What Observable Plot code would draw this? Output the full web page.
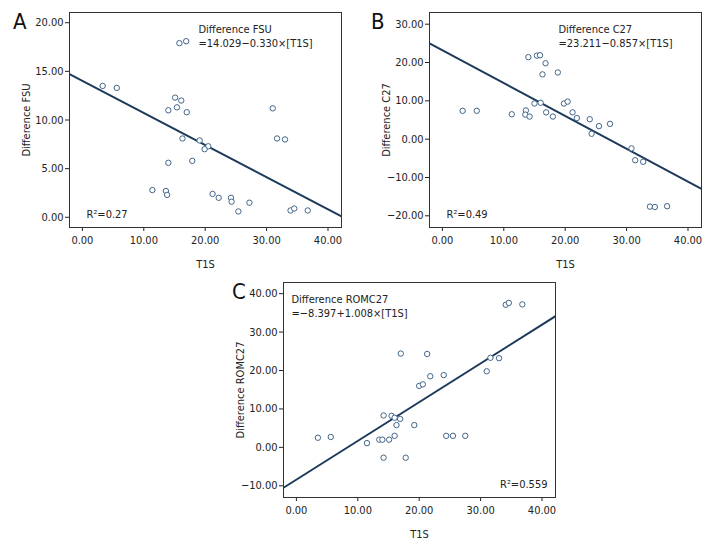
<!DOCTYPE html>
<html><head><meta charset="utf-8">
<script src="https://cdn.jsdelivr.net/npm/d3@7"></script>
<script src="https://cdn.jsdelivr.net/npm/@observablehq/plot@0.6"></script>
<style>
body{margin:0;background:#fff;}
#wrap{position:relative;width:720px;height:552px;overflow:hidden;font-family:'Liberation Sans Narrow','DejaVu Sans Condensed',sans-serif;}
.panel{position:absolute;}
.letter{position:absolute;font-size:22px;color:#111;line-height:1;}
</style></head><body><div id="wrap"></div>
<script>
// Panel A: Difference FSU vs T1S
const t1sA = [3.3,5.6,15.8,16.9,15.1,16.1,15.4,14.0,17.0,16.3,19.1,20.5,19.9,14.0,17.9,11.4,13.6,13.8,21.2,22.2,24.2,24.3,25.4,27.2,31.0,31.7,33.0,33.9,34.5,36.7];
const diffFSU = [13.5,13.3,17.9,18.1,12.3,12.0,11.3,11.0,10.8,8.1,7.9,7.3,7.0,5.6,5.8,2.8,2.7,2.3,2.4,2.0,2.0,1.6,0.6,1.5,11.2,8.1,8.0,0.7,0.9,0.7];
// Panel B: Difference C27 vs T1S
const t1sB = [3.3,5.6,11.3,13.6,13.5,14.2,14.0,15.4,15.9,16.8,16.3,18.8,15.0,16.0,16.9,18.0,19.8,20.4,21.2,21.9,24.0,24.3,25.5,27.3,30.8,31.4,32.7,33.8,34.6,36.6];
const diffC27 = [7.4,7.4,6.5,7.5,6.4,5.9,21.4,21.8,21.9,19.8,16.9,17.4,9.3,9.5,7.0,5.9,9.3,9.8,7.0,5.5,5.2,1.4,3.4,4.0,-2.4,-5.5,-5.9,-17.6,-17.7,-17.5];
// Panel C: Difference ROMC27 vs T1S
const t1sC = [3.5,5.6,11.5,13.5,14.0,14.2,14.2,15.1,15.5,16.0,16.9,16.3,16.0,17.0,17.8,19.2,20.0,20.6,21.3,21.8,24.0,24.4,25.5,27.5,31.0,31.6,33.0,34.1,34.6,36.8];
const diffROMC27 = [2.5,2.7,1.1,2.0,2.0,-2.7,8.3,2.0,8.2,7.7,7.4,5.8,3.0,24.4,-2.7,5.8,16.0,16.4,24.3,18.5,18.8,3.0,3.0,3.0,19.8,23.3,23.2,37.1,37.6,37.2];

const panelLetters = ["A","B","C"];
const yLabels = ["Difference FSU","Difference C27","Difference ROMC27"];
const xLabel = "T1S";
const xTicks = [0,10,20,30,40];
const yTicksA = [0,5,10,15,20];
const yTicksB = [-20,-10,0,10,20,30];
const yTicksC = [-10,0,10,20,30,40];
const intercepts = [14.029, 23.211, -8.397];
const slopes = [-0.330, -0.857, 1.008];
const equations = ["=14.029\u22120.330\u00d7[T1S]","=23.211\u22120.857\u00d7[T1S]","=\u22128.397+1.008\u00d7[T1S]"];
const r2Labels = ["R\u00b2=0.27","R\u00b2=0.49","R\u00b2=0.559"];

const FONT = "'Liberation Sans Narrow','DejaVu Sans Condensed',sans-serif";
const xDomain = [-2.1, 42.2];
const fmt = d3.format(".2f");
const wrap = document.getElementById("wrap");

function panel(k, xs, ys, yDomain, yTicks, eqDx, r2Right, left, top) {
  const idx = d3.range(xs.length);
  const svg = Plot.plot({
    width: 352, height: 272,
    marginLeft: 69, marginRight: 11, marginTop: 12, marginBottom: 45,
    style: {fontFamily: FONT, fontSize: "11px", color: "#222", background: "transparent"},
    x: {domain: xDomain},
    y: {domain: yDomain},
    marks: [
      Plot.axisX({ticks: xTicks, tickFormat: fmt, tickSize: 4, tickPadding: 5, label: xLabel, labelAnchor: "center", labelArrow: "none", labelOffset: 40, fontSize: 11}),
      Plot.axisY({ticks: yTicks, tickFormat: fmt, tickSize: 4, tickPadding: 2, label: yLabels[k], labelAnchor: "center", labelArrow: "none", labelOffset: 47, fontSize: 11}),
      Plot.line(xDomain, {x: d => d, y: d => intercepts[k] + slopes[k] * d, stroke: "#1c3a5a", strokeWidth: 2, clip: true}),
      Plot.dot(idx, {x: i => xs[i], y: i => ys[i], r: 2.7, stroke: "#42658a", strokeWidth: 1, fill: "white"}),
      Plot.text([yLabels[k] + "\n" + equations[k]], {frameAnchor: "top-left", dx: eqDx, dy: 11, textAnchor: "start", lineAnchor: "top", lineHeight: 1.25, fontSize: 11, fill: "#222"}),
      Plot.text([r2Labels[k]], r2Right
        ? {frameAnchor: "bottom-right", dx: -8, dy: -10, textAnchor: "end", lineAnchor: "bottom", fontSize: 11, fill: "#222"}
        : {frameAnchor: "bottom-left", dx: 17, dy: -10, textAnchor: "start", lineAnchor: "bottom", fontSize: 11, fill: "#222"}),
      Plot.frame({stroke: "#333", strokeWidth: 1})
    ]
  });
  const div = document.createElement("div");
  div.className = "panel";
  div.style.left = left + "px";
  div.style.top = top + "px";
  div.appendChild(svg);
  wrap.appendChild(div);
}

panel(0, t1sA, diffFSU, [-1.05, 21.05], yTicksA, 129, false, 0, 0);
panel(1, t1sB, diffC27, [-23.05, 33.05], yTicksB, 129, false, 360, 0);
panel(2, t1sC, diffROMC27, [-13.05, 42.9], yTicksC, 8, true, 214, 270);

const letterPos = [[13, 11], [371, 11], [232, 281]];
panelLetters.forEach((L, i) => {
  const d = document.createElement("div");
  d.className = "letter";
  d.textContent = L;
  d.style.left = letterPos[i][0] + "px";
  d.style.top = letterPos[i][1] + "px";
  wrap.appendChild(d);
});
</script></body></html>
